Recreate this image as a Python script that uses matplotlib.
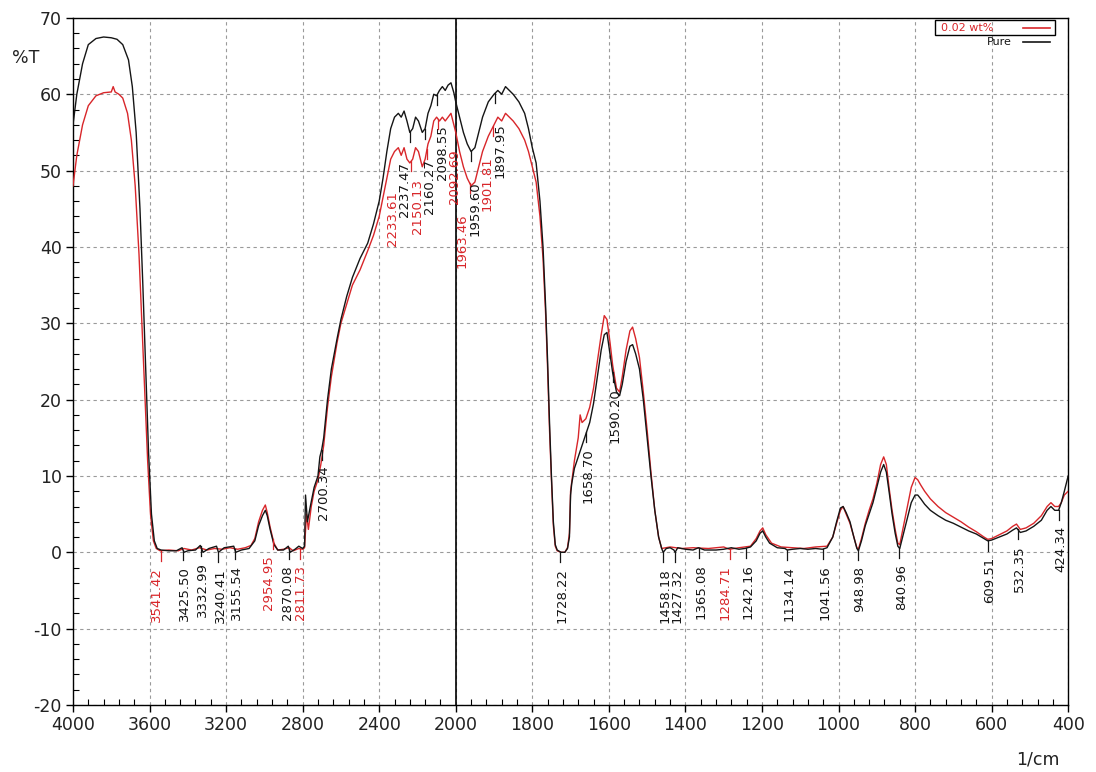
import numpy as np
import matplotlib
matplotlib.use("Agg")
import matplotlib.pyplot as plt
from matplotlib.ticker import FixedLocator, NullFormatter
from matplotlib.patches import Rectangle

# FTIR 스펙트럼 (%T vs 1/cm) - Pure / 0.02 샘플
pure_wn = [4000, 3980, 3950, 3920, 3880, 3840, 3800, 3770, 3740, 3710, 3690, 3670, 3650, 3635,
           3620, 3605, 3590, 3575, 3560, 3540, 3500, 3460, 3430, 3420, 3400, 3360, 3335, 3320,
           3290, 3250, 3240, 3210, 3160, 3150, 3120, 3080, 3050, 3030, 3010, 2995, 2985, 2970,
           2950, 2930, 2900, 2875, 2865, 2840, 2820, 2800, 2790, 2785, 2775, 2760, 2740, 2720,
           2710, 2700, 2690, 2670, 2650, 2620, 2600, 2570, 2540, 2500, 2460, 2430, 2400, 2380,
           2360, 2340, 2320, 2300, 2285, 2270, 2255, 2240, 2225, 2210, 2195, 2175, 2160, 2145,
           2130, 2115, 2100, 2085, 2070, 2055, 2040, 2025, 2010, 2000,
           1990, 1980, 1970, 1960, 1950, 1940, 1930, 1915, 1900, 1890, 1880, 1870, 1860, 1850,
           1835, 1820, 1810, 1800, 1790, 1780, 1772, 1765, 1760, 1755, 1750, 1745, 1740, 1735,
           1725, 1715, 1708, 1703, 1700, 1697, 1690, 1680, 1670, 1660, 1650, 1640, 1630, 1620,
           1612, 1605, 1597, 1590, 1580, 1572, 1565, 1555, 1545, 1538, 1530, 1520, 1510, 1500,
           1490, 1480, 1470, 1462, 1458, 1450, 1440, 1430, 1427, 1420, 1400, 1380, 1366, 1350,
           1320, 1300, 1280, 1260, 1245, 1230, 1215, 1205, 1198, 1190, 1180, 1160, 1140, 1134,
           1120, 1100, 1080, 1060, 1042, 1030, 1015, 1005, 995, 988, 980, 970, 960, 952, 948,
           940, 930, 920, 910, 900, 890, 882, 875, 868, 860, 852, 845, 840, 830, 820, 810, 800,
           793, 785, 775, 760, 740, 720, 700, 680, 660, 640, 620, 610, 600, 580, 560, 545, 535,
           525, 510, 490, 470, 455, 445, 435, 425, 418, 410, 405, 400]
pure_t = [56, 60, 64, 66.5, 67.3, 67.5, 67.4, 67.2, 66.5, 64.5, 61, 55, 45, 35,
          24, 13, 5, 1.5, 0.5, 0.3, 0.2, 0.2, 0.6, 0, 0.2, 0.3, 0.9, 0,
          0.5, 0.8, 0, 0.6, 0.8, 0, 0.3, 0.5, 1.5, 3.5, 4.8, 5.5, 4.8, 3,
          1, 0.3, 0.3, 0.8, 0, 0.4, 0.8, 0.5, 0.8, 7.5, 4, 6, 8.5, 10,
          12.5, 13.5, 15, 20, 24, 28, 30.5, 33.5, 36, 38.5, 40.5, 43, 46, 49,
          52.5, 55.5, 57, 57.5, 57, 57.8, 56.5, 55, 55.5, 57, 56.5, 55, 55.5, 57.5,
          58.5, 60, 59.8, 60.5, 61, 60.5, 61.2, 61.5, 60.2, 59,
          57, 55, 53.5, 52.5, 53, 55, 57, 59, 60, 60.5, 60, 61, 60.5, 60,
          59, 57.5, 55.5, 53, 51, 46, 40, 32, 25, 17, 10, 4, 1, 0.3,
          0, 0, 0.5, 2, 7.5, 9, 11, 12.5, 14, 15.5, 17, 19.5, 23, 26.5,
          28.5, 28.8, 26, 23.5, 21, 20.5, 22, 25, 27, 27.2, 26, 24, 20, 15,
          10, 5.5, 2, 0.5, 0, 0.5, 0.6, 0.3, 0, 0.6, 0.4, 0.3, 0.6, 0.3,
          0.3, 0.4, 0.6, 0.4, 0.5, 0.7, 1.5, 2.5, 2.8, 2, 1.2, 0.6, 0.5, 0.3,
          0.4, 0.5, 0.4, 0.5, 0.4, 0.6, 2, 4, 5.8, 6, 5.2, 4, 2, 0.5, 0.2,
          1.5, 3.5, 5, 6.5, 8.5, 10.5, 11.5, 10.5, 8, 5, 2.5, 0.8, 0.5, 2.5, 4.5, 6.5, 7.5,
          7.5, 7, 6.3, 5.5, 4.8, 4.2, 3.8, 3.3, 2.8, 2.4, 1.8, 1.5, 1.6, 2, 2.4, 2.9, 3.2,
          2.6, 2.8, 3.4, 4.2, 5.5, 6, 5.5, 5.5, 6.5, 8, 9, 10]

s02_wn = [4000, 3980, 3950, 3920, 3880, 3840, 3800, 3790, 3780, 3760, 3740, 3715, 3695, 3675,
          3655, 3640, 3625, 3610, 3595, 3580, 3565, 3545, 3500, 3450, 3420, 3380, 3340, 3300,
          3260, 3220, 3180, 3140, 3100, 3070, 3050, 3030, 3010, 2995, 2985, 2970, 2950, 2930,
          2900, 2870, 2850, 2820, 2800, 2790, 2780, 2770, 2755, 2740, 2720, 2705, 2690, 2670,
          2650, 2620, 2600, 2570, 2540, 2500, 2460, 2430, 2400, 2380, 2360, 2340, 2320, 2300,
          2285, 2270, 2255, 2240, 2225, 2210, 2195, 2175, 2160, 2145, 2130, 2115, 2100, 2085,
          2070, 2055, 2040, 2025, 2010, 2000,
          1990, 1980, 1970, 1960, 1950, 1940, 1930, 1915, 1900, 1890, 1880, 1870, 1860, 1850,
          1835, 1820, 1810, 1800, 1790, 1780, 1772, 1765, 1760, 1755, 1750, 1745, 1740, 1735,
          1725, 1715, 1708, 1703, 1700, 1690, 1680, 1675, 1670, 1660, 1650, 1640, 1630, 1620,
          1612, 1605, 1597, 1590, 1580, 1572, 1565, 1555, 1545, 1538, 1530, 1520, 1510, 1500,
          1490, 1480, 1470, 1462, 1440, 1410, 1380, 1340, 1300, 1285, 1260, 1230, 1215, 1205,
          1198, 1190, 1175, 1150, 1120, 1090, 1060, 1030, 1015, 1005, 995, 988, 980, 970, 960,
          952, 948, 940, 930, 920, 910, 900, 890, 882, 875, 868, 860, 852, 845, 840, 830, 820,
          810, 800, 793, 785, 775, 760, 740, 720, 700, 680, 660, 640, 620, 610, 600, 580, 560,
          545, 535, 525, 510, 490, 470, 455, 445, 435, 425, 418, 410, 400]
s02_t = [48, 52, 56, 58.5, 59.8, 60.2, 60.3, 61, 60.3, 60, 59.5, 57.5, 54, 48,
         39, 30, 21, 12, 5, 1.5, 0.5, 0.2, 0.3, 0.2, 0.5, 0.3, 0.6, 0.3,
         0.5, 0.4, 0.6, 0.4, 0.6, 0.9, 1.8, 4, 5.5, 6.2, 5.2, 3.3, 1.2, 0.3,
         0.4, 0.6, 0.2, 0.5, 0.4, 0.6, 5, 3, 6, 8, 9.5, 11.5, 14, 19,
         23, 27.5, 30, 32.5, 35, 37, 39.5, 41.5, 44, 46.5, 49, 51.5, 52.5, 53,
         52, 53, 51.5, 51, 51.5, 53, 52.5, 50.5, 51.5, 53.5, 54.5, 56.5, 57, 56.5,
         57, 56.5, 57, 57.5, 56, 55,
         52.5, 50.5, 49, 48, 48.5, 50.5, 52.5, 54.5, 56, 57, 56.5, 57.5, 57, 56.5,
         55.5, 54, 52.5, 50.5, 48.5, 44, 38.5, 31, 24, 16, 9.5, 3.5, 0.8, 0.2,
         0, 0, 0.6, 2.5, 8, 12, 15, 18, 17, 17.5, 19, 21.5, 25, 28.5,
         31, 30.5, 27.5, 24.5, 21.5, 21, 23, 26.5, 29, 29.5, 28, 25.5, 21, 16,
         10.5, 5.5, 2, 0.5, 0.7, 0.5, 0.6, 0.5, 0.7, 0.4, 0.6, 0.8, 1.8, 2.8,
         3.2, 2.3, 1.2, 0.7, 0.6, 0.5, 0.7, 0.8, 2, 3.8, 5.5, 6, 5, 3.8, 2,
         0.6, 0.4, 1.8, 3.8, 5.5, 7, 9, 11.5, 12.5, 11.5, 8.5, 5.5, 3, 1.2, 1, 3.5, 6,
         8.5, 9.8, 9.5, 8.8, 8, 7, 6, 5.2, 4.6, 4, 3.3, 2.7, 2, 1.7, 1.8, 2.3, 2.8,
         3.4, 3.7, 3, 3.2, 3.8, 4.8, 6, 6.5, 6, 6, 6.5, 7.5, 8]

# 피크 라벨
peak_labels = ["3541.42", "3425.50", "3332.99", "3240.41", "3155.54", "2954.95", "2870.08",
               "2811.73", "2700.34", "2233.61", "2237.47", "2150.13", "2160.27", "2092.69",
               "2098.55", "1963.46", "1959.60", "1901.81", "1897.95", "1728.22", "1658.70",
               "1590.20", "1458.18", "1427.32", "1365.08", "1284.71", "1242.16", "1134.14",
               "1041.56", "948.98", "840.96", "609.51", "532.35", "424.34"]
peak_is_red = ["3541.42", "2954.95", "2811.73", "2233.61", "2150.13", "2092.69",
               "1963.46", "1901.81", "1284.71"]

legend_names = ["0.02 wt%", "Pure"]

x_major = [4000, 3600, 3200, 2800, 2400, 2000, 1800, 1600, 1400, 1200, 1000, 800, 600, 400]
y_major = list(range(-20, 71, 10))

RED = "#d8262a"
BLACK = "#151515"


# 2000 1/cm 위쪽은 절반으로 압축
def fwd(x):
    x = np.asarray(x, dtype=float)
    return np.where(x > 2000, 2000 + (x - 2000) / 2.0, x)


def inv(p):
    p = np.asarray(p, dtype=float)
    return np.where(p > 2000, 2000 + (p - 2000) * 2.0, p)


fig = plt.figure(figsize=(10.96, 7.72), dpi=100)
ax = fig.add_axes([0.0666, 0.0868, 0.908, 0.890])
ax.set_xscale("function", functions=(fwd, inv))

ax.plot(s02_wn, s02_t, c=RED, lw=1.0, zorder=3)
ax.plot(pure_wn, pure_t, c=BLACK, lw=1.0, zorder=4)

ax.set_xlim(4000, 400)
ax.set_ylim(-20, 70)

minor_x = list(np.arange(4000, 2000, -80)) + list(np.arange(2000, 399, -40))
ax.xaxis.set_major_locator(FixedLocator(x_major))
ax.xaxis.set_minor_locator(FixedLocator(minor_x))
ax.xaxis.set_minor_formatter(NullFormatter())
ax.set_xticklabels([str(v) for v in x_major])
ax.yaxis.set_major_locator(FixedLocator(y_major))
ax.yaxis.set_minor_locator(FixedLocator(list(range(-20, 71, 2))))
ax.set_yticklabels([str(v) for v in y_major])

ax.tick_params(which="major", direction="out", length=5, width=1, labelsize=12.5, pad=3)
ax.tick_params(which="minor", direction="in", length=4, width=0.8)
for lab in ax.get_xticklabels() + ax.get_yticklabels():
    lab.set_color("#222222")

ax.grid(True, which="major", ls=(0, (3, 3)), c="#9a9a9a", lw=0.8)
ax.axvline(2000, c="black", lw=1.2, zorder=2)
for sp in ax.spines.values():
    sp.set_linewidth(1.0)

# 피크 라벨 위치 계산 (픽셀 단위, 겹치면 양쪽으로 벌리기)
to_px = ax.transData
to_data = ax.transData.inverted()
items = []
for lab in peak_labels:
    wn = float(lab)
    red = lab in peak_is_red
    yv = float(np.interp(-wn, -np.array(s02_wn if red else pure_wn), s02_t if red else pure_t))
    px, py = to_px.transform((wn, yv))
    gap = 30 if yv > 35 else 16
    top = py - gap
    items.append([px + (-4 if red else 2), top, top - 58, lab, wn, yv, red, py])

min_gap = 12.5
for _ in range(200):
    moved = False
    for i in range(len(items)):
        for j in range(i + 1, len(items)):
            a, b = items[i], items[j]
            if a[2] > b[1] or a[1] < b[2]:
                continue
            d = b[0] - a[0]
            if abs(d) < min_gap - 0.01:
                s = (min_gap - abs(d)) / 2.0
                if d >= 0:
                    a[0] -= s
                    b[0] += s
                else:
                    a[0] += s
                    b[0] -= s
                moved = True
    if not moved:
        break

for px, top, bot, lab, wn, yv, red, py in items:
    col = RED if red else BLACK
    tx, ty = to_data.transform((px, top))
    _, ly = to_data.transform((px, py - 10))
    ax.plot([wn, wn], [yv, ly], c=col, lw=0.9, zorder=5)
    ax.text(tx, ty, lab, rotation=90, ha="center", va="top", fontsize=9.5, color=col, zorder=5)

# 범례
ax.add_patch(Rectangle((0.866, 0.975), 0.121, 0.022, transform=ax.transAxes,
                       fill=False, ec="black", lw=1.0, zorder=6))
ax.text(0.872, 0.986, legend_names[0], transform=ax.transAxes, color=RED,
        fontsize=8, va="center", ha="left")
ax.plot([0.955, 0.982], [0.986, 0.986], transform=ax.transAxes, c=RED, lw=1.2)
ax.text(0.918, 0.965, legend_names[1], transform=ax.transAxes, color=BLACK,
        fontsize=8, va="center", ha="left")
ax.plot([0.955, 0.982], [0.965, 0.965], transform=ax.transAxes, c=BLACK, lw=1.2)

fig.text(0.011, 0.925, "%T", fontsize=12.5, color="#222222", va="center")
fig.text(0.927, 0.016, "1/cm", fontsize=12.5, color="#222222", va="center")

fig.savefig("out.png", dpi=100)
plt.close()
